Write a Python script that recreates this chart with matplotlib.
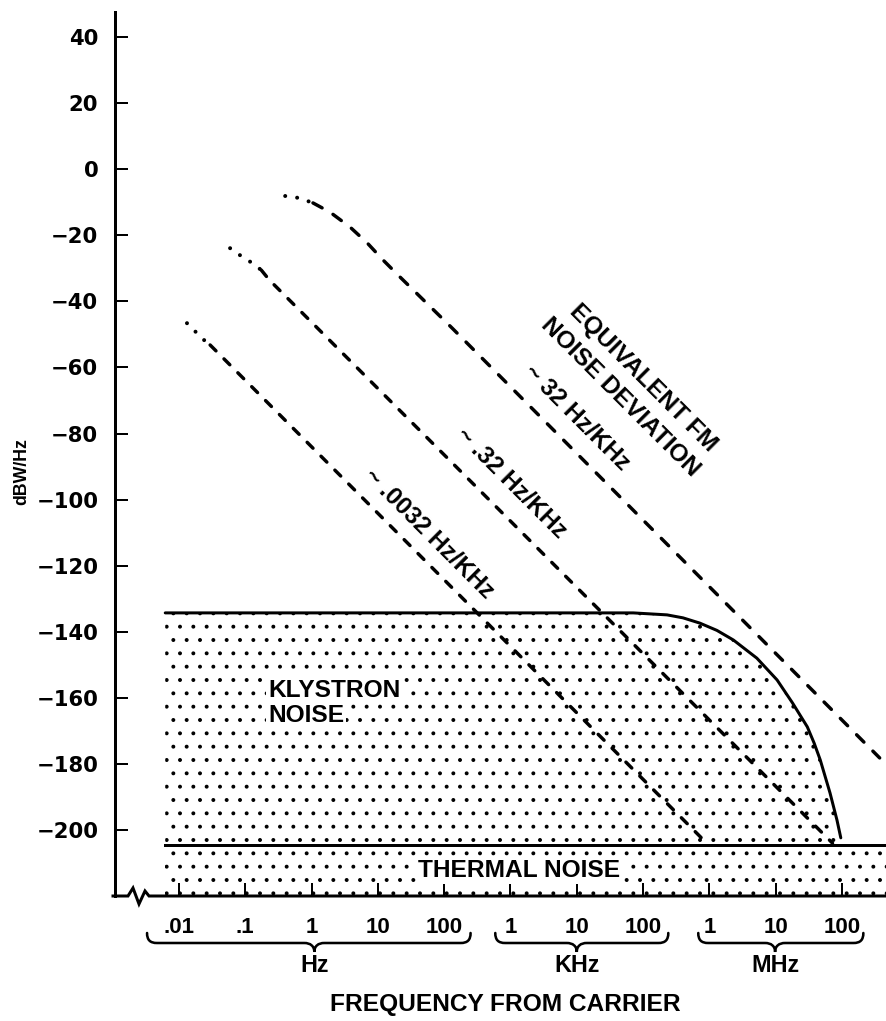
import matplotlib
matplotlib.use("Agg")
import matplotlib.pyplot as plt
from matplotlib.lines import Line2D
from matplotlib.path import Path
from matplotlib.patches import PathPatch
from matplotlib.transforms import blended_transform_factory
from matplotlib.ticker import FixedLocator, FixedFormatter, NullLocator

plt.rcParams['font.family'] = ['Liberation Sans', 'DejaVu Sans']
plt.rcParams['font.weight'] = 'bold'
plt.rcParams['hatch.linewidth'] = 1.1
plt.rcParams['hatch.color'] = 'black'

# axis ticks
ytick_vals = [40, 20, 0, -20, -40, -60, -80, -100, -120, -140, -160, -180, -200]
xtick_freqs = [1e-2, 1e-1, 1e0, 1e1, 1e2, 1e3, 1e4, 1e5, 1e6, 1e7, 1e8]
xtick_labels = ['.01', '.1', '1', '10', '100', '1', '10', '100', '1', '10', '100']
unit_names = ['Hz', 'KHz', 'MHz']
unit_braces = [(3.3e-3, 1.1, 2.5e2), (5.9e2, 1.0e4, 2.4e5), (6.8e5, 9.8e6, 2.1e8)]

# klystron noise curve (Hz, dBW/Hz)
klys_f = [0.0062, 7.1e4, 2.3e5, 4.0e5, 7.2e5, 1.3e6, 2.3e6, 5.2e6, 1.05e7, 1.8e7,
          3.0e7, 3.8e7, 4.7e7, 6.6e7, 8.4e7, 9.6e7]
klys_db = [-134.3, -134.3, -134.9, -135.8, -137.4, -139.6, -142.5, -148.0, -154.6,
           -161.6, -168.8, -173.7, -178.8, -188.8, -197.0, -202.4]

# thermal noise floor
thermal_f = [0.0062, 4.6e8]
thermal_db = -204.5

# FM noise deviation lines: dotted lead-in + dashed part
dev_a_dot_f = [0.0132, 0.0174, 0.0229, 0.0295]
dev_a_dot_db = [-46.6, -49.0, -51.4, -53.2]
dev_a_f = [0.0295, 9.1e5]
dev_a_db = [-53.2, -204.0]

dev_b_dot_f = [0.059, 0.083, 0.115, 0.174]
dev_b_dot_db = [-23.9, -26.0, -27.8, -30.5]
dev_b_f = [0.174, 0.23, 7.2e7]
dev_b_db = [-30.5, -33.5, -204.0]

dev_c_dot_f = [0.40, 0.65, 1.05]
dev_c_dot_db = [-8.1, -8.7, -10.2]
dev_c_f = [1.05, 1.9, 3.8, 6.9, 12, 21.5, 132, 3.7e8]
dev_c_db = [-10.2, -13.0, -17.5, -22.3, -27.5, -32.6, -48.1, -178.2]

DPI = 80
W, H = 886, 1021
fig = plt.figure(figsize=(W / DPI, H / DPI), dpi=DPI)
ax = fig.add_axes([115 / W, (H - 896) / H, 771 / W, 884 / H])
ax.set_xscale('log')
ax.set_xlim(10 ** -2.965, 10 ** 8.664)
ax.set_ylim(-220.0, 47.6)

# stippled regions
ax.fill_between(klys_f, klys_db, thermal_db, facecolor='none', edgecolor='black',
                linewidth=0, hatch='.')
ax.fill_between(thermal_f, -220.0, thermal_db, facecolor='none', edgecolor='black',
                linewidth=0, hatch='.')

ax.plot(klys_f, klys_db, color='black', lw=2.7, solid_capstyle='round')
ax.plot(thermal_f, [thermal_db, thermal_db], color='black', lw=2.7)

dot_style = (0, (0.01, 3.0))
for fx, dy in [(dev_a_dot_f, dev_a_dot_db), (dev_b_dot_f, dev_b_dot_db), (dev_c_dot_f, dev_c_dot_db)]:
    ax.plot(fx, dy, color='black', lw=3.6, linestyle=dot_style, dash_capstyle='round')
for fx, dy, pat in [(dev_a_f, dev_a_db, (2.4, 3.3)), (dev_b_f, dev_b_db, (2.4, 3.3)),
                    (dev_c_f, dev_c_db, (3.0, 3.7))]:
    ax.plot(fx, dy, color='black', lw=3.1, linestyle=(0, pat), dash_capstyle='round')

# labels inside the plot
txt = dict(fontsize=22, fontweight='bold', color='black')
wbox = dict(facecolor='white', edgecolor='none', pad=1.5)
ax.text(0.22, -159.8, 'KLYSTRON', ha='left', va='baseline', bbox=wbox, **txt)
ax.text(0.22, -167.3, 'NOISE', ha='left', va='baseline', bbox=wbox, **txt)
ax.text(40, -214.2, 'THERMAL NOISE', ha='left', va='baseline', bbox=wbox, **txt)
rot = dict(rotation=-45, rotation_mode='anchor', ha='center', va='center')
ax.text(1.0e5, -63.2, 'EQUIVALENT FM', **rot, **txt)
ax.text(4.5e4, -69.0, 'NOISE DEVIATION', **rot, **txt)
ax.text(1.0e4, -75.3, '~ 32 Hz/KHz', **rot, **txt)
ax.text(1.02e3, -95.0, '~ .32 Hz/KHz', **rot, **txt)
ax.text(59, -110.4, '~ .0032 Hz/KHz', **rot, **txt)

# axes styling
for s in ['top', 'right', 'bottom']:
    ax.spines[s].set_visible(False)
ax.spines['left'].set_linewidth(2.7)
ax.yaxis.set_major_locator(FixedLocator(ytick_vals))
ax.yaxis.set_major_formatter(FixedFormatter([str(v).replace('-', '\u2212') for v in ytick_vals]))
ax.xaxis.set_major_locator(FixedLocator(xtick_freqs))
ax.xaxis.set_major_formatter(FixedFormatter(xtick_labels))
ax.xaxis.set_minor_locator(NullLocator())
ax.tick_params(axis='y', direction='in', length=11.7, width=1.8, pad=15, labelsize=19)
ax.tick_params(axis='x', direction='in', length=11.7, width=1.8, pad=19, labelsize=20)
for lab in ax.get_yticklabels():
    lab.set_fontfamily('DejaVu Sans')

# bottom axis line with break mark
zz_x = [113, 128, 133, 139, 145, 149, 886]
zz_y = [896, 896, 888, 904, 891, 896, 896]
fig.add_artist(Line2D([x / W for x in zz_x], [1 - y / H for y in zz_y], color='black',
                      lw=2.7, transform=fig.transFigure, solid_joinstyle='miter'))

# braces and unit names under the tick labels
def draw_brace(f0, fm, f1):
    x0 = ax.transData.transform((f0, 0))[0]
    xm = ax.transData.transform((fm, 0))[0]
    x1 = ax.transData.transform((f1, 0))[0]
    yt, yh, yb = H - 933, H - 943, H - 952
    r = 10
    verts = [(x0, yt), (x0, yh + 3), (x0 + 3, yh), (x0 + r, yh),
             (xm - r, yh), (xm - 4, yh), (xm, yh - 3), (xm, yb),
             (xm, yh - 3), (xm + 4, yh), (xm + r, yh),
             (x1 - r, yh), (x1 - 3, yh), (x1, yh + 3), (x1, yt)]
    codes = [Path.MOVETO, Path.CURVE4, Path.CURVE4, Path.CURVE4, Path.LINETO,
             Path.CURVE4, Path.CURVE4, Path.CURVE4, Path.CURVE4, Path.CURVE4, Path.CURVE4,
             Path.LINETO, Path.CURVE4, Path.CURVE4, Path.CURVE4]
    verts = [(x / W, y / H) for x, y in verts]
    fig.add_artist(PathPatch(Path(verts, codes), fill=False, lw=2.3, capstyle='round',
                             transform=fig.transFigure))

btrans = blended_transform_factory(ax.transData, fig.transFigure)
for name, (f0, fm, f1) in zip(unit_names, unit_braces):
    draw_brace(f0, fm, f1)
    ax.text(fm, 1 - 965 / H, name, transform=btrans, ha='center', va='center',
            fontsize=21, fontweight='bold', clip_on=False)

fig.text(505 / W, 1 - 1005 / H, 'FREQUENCY FROM CARRIER', ha='center', va='center',
         fontsize=22, fontweight='bold')
fig.text(22 / W, 1 - 472 / H, 'dBW/Hz', rotation=90, ha='center', va='center',
         fontsize=16, fontweight='bold')

fig.savefig('out.png', dpi=DPI)
